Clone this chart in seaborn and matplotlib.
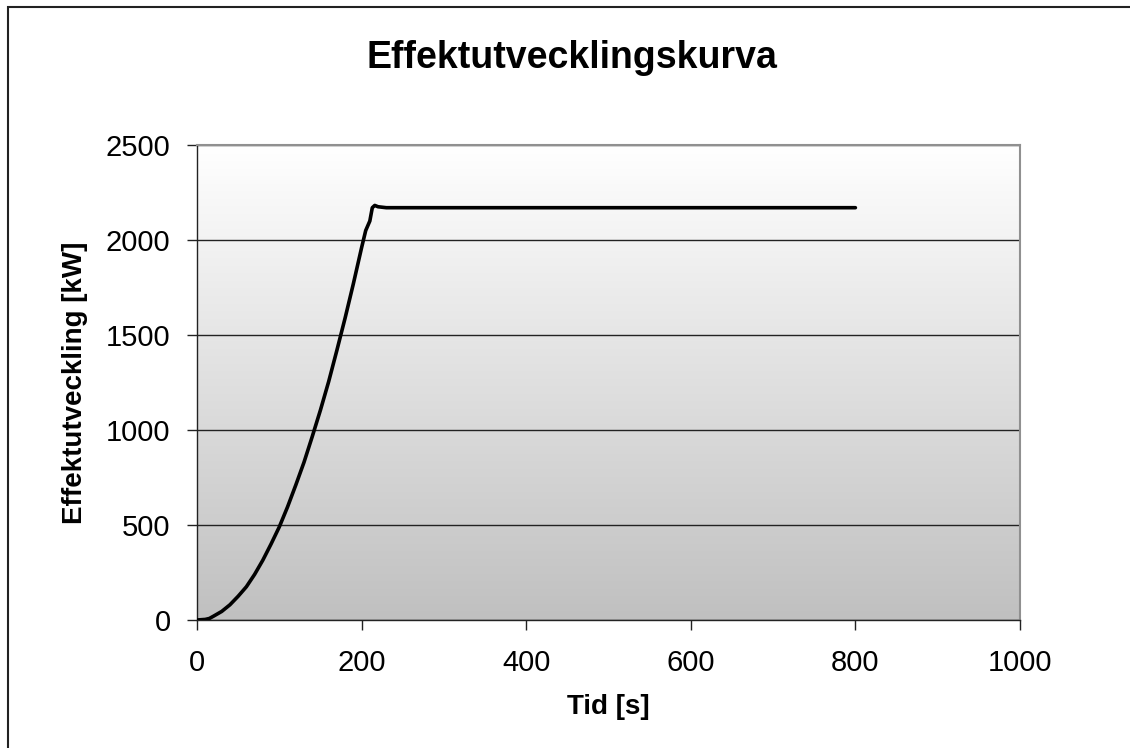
import numpy as np
import pandas as pd
import matplotlib
matplotlib.use("Agg")
import matplotlib.pyplot as plt
import seaborn as sns
from matplotlib.patches import Rectangle

# Data
tid = [0, 10, 15, 20, 30, 40, 50, 60, 70, 80, 90, 100, 110, 120, 130, 140, 150,
       160, 170, 180, 190, 200, 205, 210, 213, 216, 220, 230, 800]
effekt = [0, 3, 8, 20, 45, 80, 125, 175, 240, 315, 400, 490, 595, 710, 830, 965, 1105,
          1255, 1420, 1590, 1770, 1960, 2050, 2100, 2170, 2182, 2175, 2170, 2170]

title = "Effektutvecklingskurva"
xlabel = "Tid [s]"
ylabel = "Effektutveckling [kW]"
xticks = [0, 200, 400, 600, 800, 1000]
yticks = [0, 500, 1000, 1500, 2000, 2500]

sns.set_theme(style="white")
plt.rcParams['font.family'] = ['Liberation Sans', 'DejaVu Sans']
plt.rcParams['text.color'] = 'black'
plt.rcParams['axes.labelcolor'] = 'black'

fig = plt.figure(figsize=(11.30, 7.48), dpi=100)
ax = fig.add_axes([197/1130, 1-620/748, (1020-197)/1130, (620-145)/748])

# gradient background
grad = np.linspace(0, 1, 256).reshape(-1, 1)
cmap = matplotlib.colors.LinearSegmentedColormap.from_list("g", ["#c0c0c0", "#ffffff"])
ax.imshow(grad, extent=[0, 1, 0, 1], transform=ax.transAxes, cmap=cmap,
          aspect="auto", origin="lower", zorder=0)

df = pd.DataFrame({"Tid": tid, "Effekt": effekt})
sns.lineplot(data=df, x="Tid", y="Effekt", ax=ax, color="black", linewidth=2.6, zorder=3)

ax.set_xlim(0, 1000)
ax.set_ylim(0, 2500)
ax.set_xticks(xticks)
ax.set_yticks(yticks)
ax.yaxis.grid(True, color="#222222", linewidth=1.0, zorder=1)
for g in ax.get_ygridlines():
    g.set_zorder(1)

for side in ["top", "right"]:
    ax.spines[side].set_color("#909090")
    ax.spines[side].set_linewidth(1.5)
for side in ["left", "bottom"]:
    ax.spines[side].set_color("#222222")
    ax.spines[side].set_linewidth(1.0)

ax.tick_params(axis="both", which="both", direction="out", length=7, width=1.0,
               color="#222222", labelsize=21, labelcolor="black", left=True, bottom=True)
ax.tick_params(axis="y", pad=12)
ax.tick_params(axis="x", pad=14)

ax.set_xlabel(xlabel, fontsize=20, fontweight="bold", labelpad=12)
ax.set_ylabel(ylabel, fontsize=20, fontweight="bold", labelpad=13)
fig.text(0.506, 1 - 58/748, title, fontsize=27, fontweight="bold",
         ha="center", va="center")

# Outer frame (right/bottom edges beyond canvas)
fig.patches.append(Rectangle((8/1130, -1.0), 5.0, 2.0 - 7/748,
                             transform=fig.transFigure, fill=False,
                             edgecolor="#222222", linewidth=1.5))

fig.savefig("out.png", dpi=100)
